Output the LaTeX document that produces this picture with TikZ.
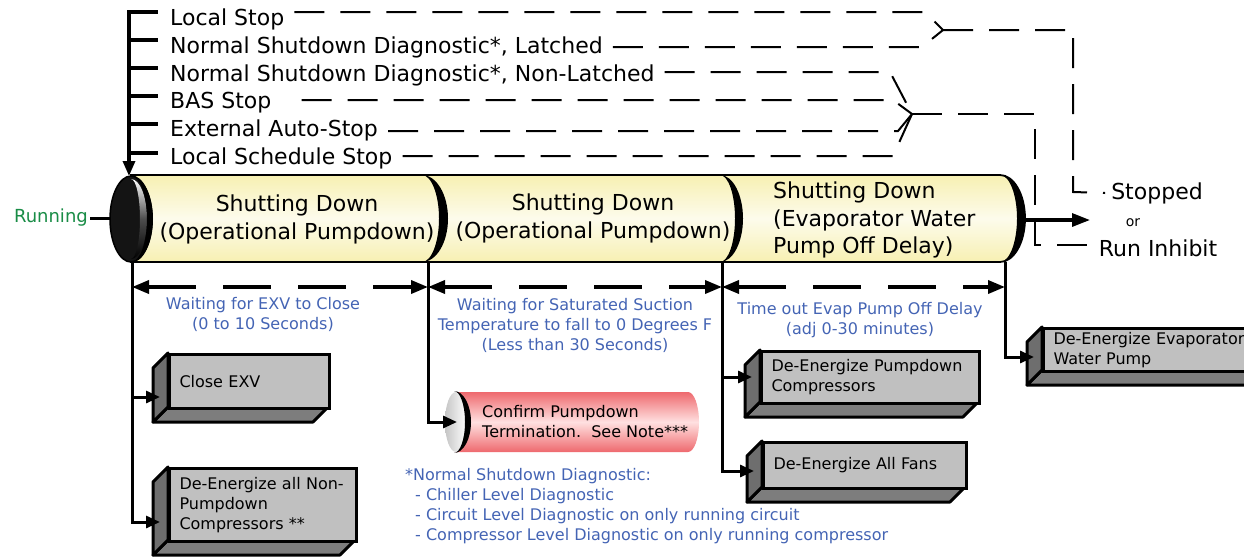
\documentclass[tikz,border=0pt]{standalone}
\usepackage{fontspec}
\setmainfont{DejaVu Sans}
\usetikzlibrary{arrows.meta,calc}
\definecolor{lblue}{RGB}{68,100,180}
\definecolor{rgreen}{RGB}{25,140,70}
\definecolor{frontgray}{RGB}{192,192,192}
\definecolor{leftgray}{RGB}{110,110,110}
\definecolor{botgray}{RGB}{125,125,125}
\definecolor{cylyel}{RGB}{247,240,178}
\definecolor{cylred}{RGB}{238,105,110}

\newcommand\gbox[7]{%
  \pgfmathsetmacro\gbw{#4-#2}%
  \pgfmathsetmacro\gbh{#5-#3}%
  \pgfmathsetmacro\gbt{#4-#2-20}%
  \draw[boxline, fill=botgray] (#2,#5) -- (#4,#5) -- (#4-15,#5+15) -- (#2-15,#5+15) -- cycle;
  \draw[boxline, fill=leftgray] (#2,#3) -- (#2,#5) -- (#2-15,#5+15) -- (#2-15,#3+15) -- cycle;
  \node[frontbox, anchor=north west, minimum width=\gbw pt, minimum height=\gbh pt, text width=\gbt pt] (#1) at (#2,#3) {#6};
  \coordinate (#1-in) at (#2-8,#7);
}

\begin{document}
\begin{tikzpicture}[x=1pt,y=-1pt,
  listtext/.style={font=\fontsize{22}{26}\selectfont, inner sep=0pt, anchor=base west},
  tick/.style={line width=3.2pt},
  dashline/.style={line width=2pt, dash pattern=on 30pt off 16pt},
  dimline/.style={line width=3.5pt, dash pattern=on 48pt off 27pt, >={Triangle[length=17pt,width=13pt]}, <->},
  brarrow/.style={line width=3pt, >={Triangle[length=14pt,width=12pt]}, ->},
  bigarrow/.style={line width=3.2pt, >={Triangle[length=18pt,width=13pt]}, ->},
  bluetext/.style={font=\fontsize{16}{20}\selectfont, text=lblue, align=center, inner sep=0pt},
  cyltext/.style={font=\fontsize{22}{28}\selectfont, align=center, inner sep=0pt},
  boxline/.style={line width=3pt, line join=round},
  frontbox/.style={draw, line width=3pt, fill=frontgray, inner xsep=10pt, inner ysep=0pt, align=left, font=\fontsize{16}{20}\selectfont},
]
\useasboundingbox (0,0) rectangle (1244,558);

% ---------- list of stop sources ----------
\node[listtext] (ls)  at (170,25)  {Local Stop};
\node[listtext] (lat) at (170,53)  {Normal Shutdown Diagnostic*, Latched};
\node[listtext] (nl)  at (170,81)  {Normal Shutdown Diagnostic*, Non-Latched};
\node[listtext] (bas) at (170,108) {BAS Stop};
\node[listtext] (eas) at (170,136) {External Auto-Stop};
\node[listtext] (lss) at (170,164) {Local Schedule Stop};

\coordinate (spinetop) at (129,10);
\coordinate (cyltop) at (129,176);
\draw[bigarrow, >={Triangle[length=15pt,width=12pt]}] (spinetop) -- (cyltop);
\foreach \ty in {12,40,68,96,124,153} \draw[tick] (129,\ty) -- (158,\ty);

% merge points
\coordinate (mA) at (943,30);
\coordinate (mB) at (912,114);

% ---------- cylinder ----------
\path[draw=black, line width=1.8pt, top color=cylyel, bottom color=cylyel, middle color=white!75!cylyel]
  (131,175) -- (1000,175) arc[start angle=-90,end angle=90,x radius=25,y radius=43.5] -- (131,262) -- cycle;
% dividers
\fill (422,175) arc[start angle=-90,end angle=90,x radius=26,y radius=43.5] -- (422,262) arc[start angle=90,end angle=-90,x radius=17,y radius=43.5] -- cycle;
\fill (720,175) arc[start angle=-90,end angle=90,x radius=23,y radius=43.5] -- (720,262) arc[start angle=90,end angle=-90,x radius=15,y radius=43.5] -- cycle;
\fill (1000,175) arc[start angle=-90,end angle=90,x radius=25,y radius=43.5] -- (1000,262) arc[start angle=90,end angle=-90,x radius=17,y radius=43.5] -- cycle;
% left end
\draw[line width=1.5pt, fill=black!92] (131,219) ellipse [x radius=21, y radius=43];
\shade[top color=white, bottom color=black, middle color=black!70]
  (131,179) arc[start angle=-90,end angle=90,x radius=16,y radius=40] -- (131,259) arc[start angle=90,end angle=-90,x radius=9,y radius=40] -- cycle;
\fill (131,176) arc[start angle=-90,end angle=90,x radius=22,y radius=43] -- (131,262) arc[start angle=90,end angle=-90,x radius=16,y radius=43] -- cycle;

\node[cyltext] (seg1) at (297,219) {Shutting Down\\(Operational Pumpdown)};
\node[cyltext] (seg2) at (593,218) {Shutting Down\\(Operational Pumpdown)};
\node[cyltext, align=left, anchor=west, font=\fontsize{22}{27.5}\selectfont] (seg3) at (773,220) {Shutting Down\\(Evaporator Water\\Pump Off Delay)};

% Running
\node[font=\fontsize{18}{22}\selectfont, text=rgreen, inner sep=2pt, anchor=east] (running) at (90,218) {Running};
\coordinate (runcap) at (110,218);
\draw[line width=3pt] (running.east) -- (runcap);

% outputs
\node[font=\fontsize{22}{26}\selectfont, inner sep=0pt] (stopped) at (1157,193) {Stopped};
\node[font=\fontsize{14}{16}\selectfont, inner sep=0pt] (or) at (1133,223) {or};
\node[font=\fontsize{22}{26}\selectfont, inner sep=0pt] (runinh) at (1158,248) {Run Inhibit};
\coordinate (cylend) at (1025,220);
\coordinate (outtip) at (1090,220);
\draw[bigarrow] (cylend) -- (outtip);

% dashed routes
\draw[dashline] ([xshift=10pt,yshift=13pt]ls.base east) -- (925,12) -- (mA);
\draw[dashline] ([xshift=10pt,yshift=6pt]lat.base east) -- (922,47) -- (mA);
\draw[dashline] (mA) -- (1073,30) -- (1073,192) -- ([xshift=-6pt]stopped.west);
\draw[dashline] ([xshift=10pt,yshift=9pt]nl.base east) -- (890,72) -- (mB);
\draw[dashline] ([xshift=30pt,yshift=8pt]bas.base east) -- (893,100) -- (mB);
\draw[dashline] ([xshift=10pt,yshift=5pt]eas.base east) -- (898,131) -- (mB);
\draw[dashline] ([xshift=10pt,yshift=8pt]lss.base east) -- (893,156) -- (mB);
\draw[dashline] (mB) -- (1035,114) -- (1035,245) -- ($(runinh.west)+(-5,-3)$);

% ---------- timing dimension lines ----------
\coordinate (d0) at (132,287);
\coordinate (d1) at (428,287);
\coordinate (d2) at (722,287);
\coordinate (d3) at (1005,287);
\draw[dimline] (d0) -- (d1);
\draw[dimline] (d1) -- (d2);
\draw[dimline] (d2) -- (d3);

\node[bluetext] (t1) at (263,314) {Waiting for EXV to Close\\(0 to 10 Seconds)};
\node[bluetext] (t2) at (575,325) {Waiting for Saturated Suction\\Temperature to fall to 0 Degrees F\\(Less than 30 Seconds)};
\node[bluetext] (t3) at (860,320) {Time out Evap Pump Off Delay\\(adj 0-30 minutes)};

% ---------- action boxes ----------
\gbox{cexv}{168}{353}{328}{407}{Close EXV}{397}
\gbox{nonp}{168}{467}{355}{540}{De-Energize all Non-\\Pumpdown\\Compressors **}{522}
\gbox{pdc}{760}{350}{978}{402}{De-Energize Pumpdown\\Compressors}{377}
\gbox{fans}{762}{441}{965}{487}{De-Energize All Fans}{471}
\gbox{evap}{1042}{327}{1262}{370}{De-Energize Evaporator\\Water Pump}{357}

% red cylinder
\path[top color=cylred, bottom color=cylred, middle color=white!88!red]
  (455,392) -- (688,392) arc[start angle=-90,end angle=90,x radius=11,y radius=30] -- (455,452) -- cycle;
\shade[left color=gray!45, right color=white] (456,422) ellipse [x radius=11, y radius=30];
\fill (454,391) arc[start angle=-90,end angle=90,x radius=17,y radius=31] -- (454,453) arc[start angle=90,end angle=-90,x radius=11,y radius=31] -- cycle;
\coordinate (conf-in) at (457,422);
\node[font=\fontsize{16}{20}\selectfont, align=left, anchor=west, inner sep=0pt] (conf) at (482,422) {Confirm Pumpdown\\Termination.\ \ See Note***};

% branch connectors
\draw[brarrow] (d0 |- 0,262) |- (cexv-in);
\draw[brarrow] (d0 |- 0,262) |- (nonp-in);
\draw[brarrow] (d1 |- 0,262) |- (conf-in);
\draw[brarrow] (d2 |- 0,262) |- (pdc-in);
\draw[brarrow] (d2 |- 0,262) |- (fans-in);
\draw[brarrow] (d3 |- 0,262) |- (evap-in);

% footnote
\node[font=\fontsize{16}{20}\selectfont, text=lblue, align=left, anchor=west, inner sep=0pt] (note) at (405,506)
 {*Normal Shutdown Diagnostic:\\\hspace*{10pt}- Chiller Level Diagnostic\\\hspace*{10pt}- Circuit Level Diagnostic on only running circuit\\\hspace*{10pt}- Compressor Level Diagnostic on only running compressor};
\end{tikzpicture}
\end{document}
